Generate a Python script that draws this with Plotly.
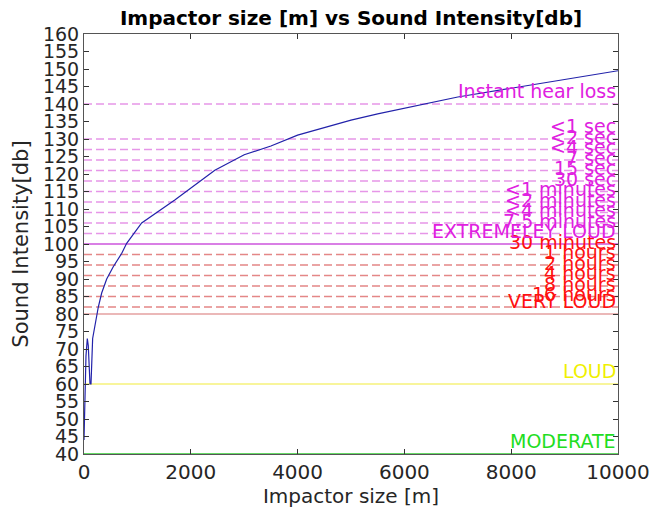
import plotly.graph_objects as go

# Curve data
impactor_size = [0, 37, 62, 80, 112, 131, 162, 206, 268, 331, 425, 548, 705, 799,
                 1080, 1700, 2000, 2450, 3000, 3500, 4000, 4500, 5000, 5500, 6000,
                 7000, 8000, 9000, 10000]
sound_db = [44, 68, 73, 71, 60, 60, 73, 77, 82, 86, 90, 93.5, 97.3, 100.2,
            106, 112.6, 116, 121.1, 125.5, 128, 131.1, 133.3, 135.4, 137.2, 138.8,
            142, 144.5, 147, 149.5]

# Reference levels
mag_levels = [140, 130, 127, 124, 121, 118, 115, 112, 109, 106, 103]
mag_labels = ["Instant hear loss", "<1 sec", "<2 sec", "<4 sec", "7 sec", "15 sec",
              "30 sec", "<1 minutes", "<2 minutes", "<4 minutes", "7.5 minutes"]
red_levels = [97, 94, 91, 88, 85, 82]
red_labels = ["30 minutes", "1 hours", "2 hours", "4 hours", "8 hours", "16 hours"]
main_levels = [100, 80, 60, 40]
main_labels = ["EXTREMELEY LOUD", "VERY LOUD", "LOUD", "MODERATE"]
main_line_colors = ["#cc55dd", "#e4a0a0", "#f6f27a", "#33cc33"]
main_text_colors = ["#e020e0", "#ff1010", "#f0f000", "#22dd22"]

x_range = [0, 10000]
y_ticks = list(range(40, 161, 5))
x_ticks = [0, 2000, 4000, 6000, 8000, 10000]
x_tick_text = ["0", "2000", "4000", "6000", "8000", "10000"]

FONT = "DejaVu Sans"
fig = go.Figure()

for lv in mag_levels:
    fig.add_trace(go.Scatter(x=x_range, y=[lv, lv], mode="lines",
                             line=dict(color="rgb(230,150,232)", width=1.6, dash="8px,4px"),
                             hoverinfo="skip", showlegend=False))
for lv in red_levels:
    fig.add_trace(go.Scatter(x=x_range, y=[lv, lv], mode="lines",
                             line=dict(color="rgb(228,135,135)", width=1.6, dash="8px,4px"),
                             hoverinfo="skip", showlegend=False))
for lv, c in zip(main_levels, main_line_colors):
    fig.add_trace(go.Scatter(x=x_range, y=[lv, lv], mode="lines",
                             line=dict(color=c, width=1.6),
                             hoverinfo="skip", showlegend=False))

fig.add_trace(go.Scatter(x=impactor_size, y=sound_db, mode="lines",
                         line=dict(color="#2222aa", width=1.2),
                         showlegend=False))

def label(y, text, color):
    fig.add_annotation(x=x_range[1], y=y, text=text, showarrow=False,
                       xanchor="right", yanchor="bottom", yshift=0,
                       font=dict(family=FONT, size=19, color=color))

for lv, t in zip(mag_levels, mag_labels):
    label(lv, t, "#e020e0")
for lv, t in zip(red_levels, red_labels):
    label(lv, t, "#ff1010")
for lv, t, c in zip(main_levels, main_labels, main_text_colors):
    label(lv, t, c)

axis_common = dict(showgrid=False, zeroline=False, showline=True, linecolor="#555555",
                   linewidth=1, mirror="ticks", ticks="inside", ticklen=5,
                   tickcolor="#333333")

fig.update_xaxes(range=x_range, tickvals=x_ticks, ticktext=x_tick_text, **axis_common,
                 tickfont=dict(family=FONT, size=20, color="#262626"),
                 title=dict(text="Impactor size [m]", standoff=2,
                            font=dict(family=FONT, size=20, color="#262626")))
fig.update_yaxes(range=[40, 160], tickvals=y_ticks, **axis_common,
                 tickfont=dict(family=FONT, size=19, color="#262626"),
                 title=dict(text="Sound Intensity[db]", standoff=8,
                            font=dict(family=FONT, size=21, color="#262626")))

fig.update_layout(
    width=664, height=514,
    margin=dict(l=84, r=46, t=34, b=60),
    paper_bgcolor="white", plot_bgcolor="white",
    title=dict(text="<b>Impactor size [m] vs Sound Intensity[db]</b>",
               x=(84 + 618) / 2 / 664, xanchor="center", y=1 - 18 / 514, yanchor="middle",
               font=dict(family=FONT, size=20, color="#000000")),
)

fig.write_html("out.html")
